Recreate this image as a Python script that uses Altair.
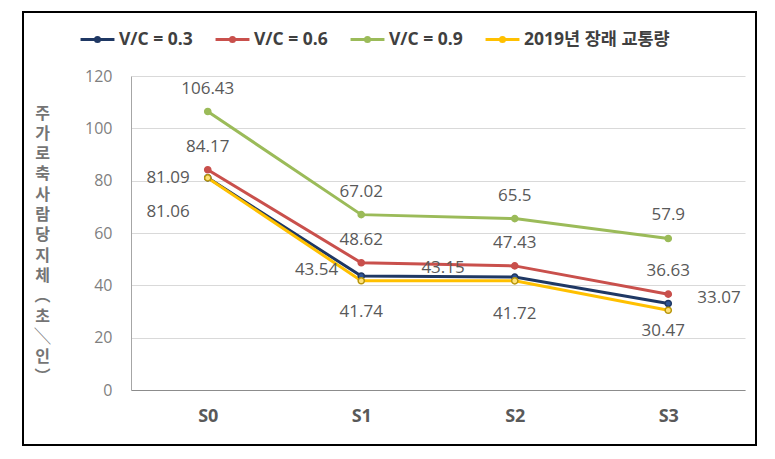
import altair as alt
import pandas as pd

categories = ["S0", "S1", "S2", "S3"]
series_names = ["V/C = 0.3", "V/C = 0.6", "V/C = 0.9", "2019년 장래 교통량"]
vc03 = [81.09, 43.54, 43.15, 33.07]
vc06 = [84.17, 48.62, 47.43, 36.63]
vc09 = [106.43, 67.02, 65.5, 57.9]
future2019 = [81.06, 41.74, 41.72, 30.47]
line_colors = ["#1F3864", "#C9504C", "#9BBB59", "#FFC000"]
marker_edges = ["#1F3864", "#C9504C", "#9BBB59", "#B8960C"]
marker_fills = ["#2E5597", "#C9504C", "#9BBB59", "#FFE27A"]
y_title = ["주", "가", "로", "축", "사", "람", "당", "지", "체", "︵", "초", "╲", "인", "︶"]

rows = []
for name, vals in zip(series_names, [vc03, vc06, vc09, future2019]):
    for c, v in zip(categories, vals):
        rows.append({"series": name, "cat": c, "value": v, "label": f"{v:g}"})
df = pd.DataFrame(rows)

# label placement (style only): (series, category, align, dx, dy)
placements = []
for c in categories:
    placements.append(("V/C = 0.9", c, "center", 0, -23))
    placements.append(("V/C = 0.6", c, "center", 0, -23))
placements += [
    ("V/C = 0.3", "S0", "right", -18, 0),
    ("V/C = 0.3", "S1", "right", -23, -6),
    ("V/C = 0.3", "S2", "right", -50, -9),
    ("V/C = 0.3", "S3", "left", 29, -5),
    ("2019년 장래 교통량", "S0", "right", -18, 34),
    ("2019년 장래 교통량", "S1", "center", 0, 31),
    ("2019년 장래 교통량", "S2", "center", 0, 33),
    ("2019년 장래 교통량", "S3", "center", -5, 21),
]

x_enc = alt.X("cat:N", sort=categories, title=None,
              axis=alt.Axis(labelAngle=0, labelFontSize=18, labelFontWeight="bold",
                            labelColor="#595959", labelFont="Open Sans",
                            labelPadding=17, ticks=False, domainColor="#8C8C8C",
                            domainWidth=1, grid=False))
y_enc = alt.Y("value:Q", scale=alt.Scale(domain=[0, 120]), title=y_title,
              axis=alt.Axis(values=[0, 20, 40, 60, 80, 100, 120], ticks=False,
                            labelFontSize=16, labelColor="#7F7F7F", labelFont="Open Sans",
                            labelPadding=19, domainColor="#A6A6A6", gridColor="#D9D9D9",
                            titleAngle=0, titleAlign="center", titleBaseline="top",
                            titleX=-89, titleY=29, titleFontSize=16, titleFontWeight="bold",
                            titleColor="#757575", titleFont="Noto Sans CJK KR",
                            titleLineHeight=20.3))

base = alt.Chart(df)

lines = base.mark_line(strokeWidth=3).encode(
    x=x_enc, y=y_enc,
    color=alt.Color("series:N", sort=series_names,
                    scale=alt.Scale(domain=series_names, range=line_colors),
                    legend=alt.Legend(title=None, orient="none", direction="horizontal",
                                      legendX=-52, legendY=-55,
                                      symbolType="M-1,0H1M-0.12,0A0.12,0.12 0 1 1 0.12,0A0.12,0.12 0 1 1 -0.12,0",
                                      symbolSize=1150, symbolStrokeWidth=3,
                                      labelFontSize=17.5, labelFontWeight="bold",
                                      labelColor="#404040", labelFont="Open Sans, Noto Sans CJK KR",
                                      columnPadding=16, labelOffset=3)),
    order=alt.Order("cat:N"),
)

points = base.mark_circle(size=38, strokeWidth=1.5, opacity=1).encode(
    x=alt.X("cat:N", sort=categories),
    y="value:Q",
    fill=alt.Fill("series:N", scale=alt.Scale(domain=series_names, range=marker_fills), legend=None),
    stroke=alt.Stroke("series:N", scale=alt.Scale(domain=series_names, range=marker_edges), legend=None),
)

label_layers = []
for s, c, align, dx, dy in placements:
    label_layers.append(
        base.transform_filter((alt.datum.series == s) & (alt.datum.cat == c))
        .mark_text(align=align, baseline="middle", dx=dx, dy=dy, fontSize=17,
                   color="#595959", font="Open Sans")
        .encode(x=alt.X("cat:N", sort=categories), y="value:Q", text="label:N")
    )

frame = alt.Chart(pd.DataFrame({"k": [0]})).mark_rect(
    filled=False, stroke="black", strokeWidth=2
).encode(x=alt.value(-108), x2=alt.value(625), y=alt.value(-64), y2=alt.value(369))

chart = alt.layer(frame, lines, points, *label_layers).properties(
    width=614, height=314,
    padding={"left": 123, "top": 68, "right": 22, "bottom": 60},
    autosize="none",
    background="white",
).resolve_scale(fill="independent", stroke="independent").configure_view(stroke=None)

chart.save("out.html", embed_options={"renderer": "svg", "actions": False})
